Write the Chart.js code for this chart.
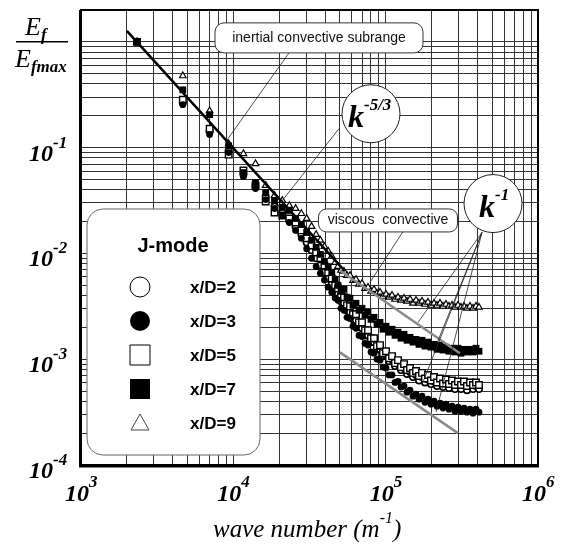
<!DOCTYPE html>
<html>
<head>
<meta charset="utf-8">
<script src="https://cdn.jsdelivr.net/npm/chart.js@4.4.1/dist/chart.umd.min.js"></script>
<style>
html,body{margin:0;padding:0;background:#fff;overflow:hidden}
canvas{display:block}
</style>
</head>
<body>
<canvas id="spec" width="563" height="547"></canvas>
<script>
/* normalised spectra E_f/E_fmax against wave number, J-mode */
const kVals=[2330,4660,6990,9320,11650,13980,16310,18640,20970,23300,25630,27960,30290,32620,34950,37280,39610,41940,44270,46600,
  48650,50910,53270,55740,58330,61030,63860,66830,69930,73170,76570,80120,83840,87730,91800,96060,100500,105200,110100,115200,
  120500,126100,132000,138100,144500,151200,158200,165500,173200,181200,189600,198400,207600,217300,227400,237900,248900,260500,
  272600,285200,298400,312300,326800,341900,357800,374400,391800,409900];

const yD2=[1.0,0.266,0.142,0.094,0.0556,0.0429,0.0345,0.0277,0.0244,0.0205,0.0180,0.0151,0.0127,0.0107,0.0090,0.0077,0.0066,0.0058,0.0051,0.0044,
  .00411,.00353,.00338,.00290,.00278,.00238,.00233,.00200,.00196,.00168,.00168,.00145,.00145,.00124,.00124,.00107,.00109,.000959,.00100,.000861,
  .000899,.00079,.000825,.000726,.000756,.000679,.00071,.00063,.000679,.000603,.000644,.000583,.000616,.000558,.000603,.000546,.00059,.000534,
  .000583,.000522,.00057,.000522,.00057,.00051,.000558,.000522,.000558,.000522];
const yD3=[1.0,0.255,0.133,0.0898,0.0532,0.0410,0.0323,0.0266,0.0228,0.0196,0.0165,0.0139,0.0111,0.0090,0.0075,0.0065,0.0056,0.0048,0.0043,0.0038,
  .00361,.00303,.00290,.00249,.00243,.00205,.00196,.00168,.00164,.00141,.00136,.00117,.00114,.00100,.00098,.000842,.000825,.00071,.00071,.000603,
  .000616,.000546,.000557,.000488,.00051,.000447,.000467,.000419,.000447,.000392,.000419,.000376,.000401,.00036,.000384,.000345,.000376,.000337,
  .00036,.000323,.000352,.000323,.000345,.000316,.000337,.000309,.000337,.000316];
const yD5=[1.0,0.284,0.151,0.0859,0.0607,0.0439,0.0310,0.0244,0.0228,0.0214,0.0196,0.0165,0.0139,0.0119,0.0102,0.0090,0.0077,0.0066,0.0058,0.0050,
  .00467,.00393,.00385,.00323,.00316,.00266,.00266,.00223,.00223,.00188,.00188,.00158,.00158,.00133,.00136,.00114,.00119,.00102,.00107,.000919,
  .00098,.000842,.000899,.00079,.000825,.000742,.000773,.000695,.000742,.000658,.00071,.00063,.000679,.000603,.000658,.00059,.000644,.000583,
  .00063,.00057,.000616,.00057,.000616,.000558,.000603,.00057,.000603,.00057];
const yD7=[1.0,0.352,0.205,0.104,0.0581,0.0468,0.0376,0.0316,0.0272,0.0255,0.0214,0.0188,0.0158,0.0133,0.0114,0.0098,0.0084,0.0074,0.0066,0.0057,
  .00499,.00438,.00457,.00385,.00377,.00323,.00338,.00290,.00303,.00260,.00278,.00238,.00249,.00214,.00223,.00192,.00205,.00180,.00192,.00168,
  .00180,.00158,.00172,.00151,.00161,.00145,.00154,.00138,.00151,.00133,.00145,.00130,.00138,.00124,.00136,.00122,.00130,.00119,
  .00127,.00117,.00127,.00114,.00124,.00117,.00124,.00117,.00127,.00119];
const yD9=[1.0,0.477,0.223,0.109,0.0877,0.0706,0.0439,0.0352,0.0316,0.0284,0.0266,0.0238,0.0214,0.0180,0.0151,0.0133,0.0116,0.0105,0.0094,0.0082,
  .00754,.00692,.00677,.00620,.00620,.00556,.00568,.00510,.00521,.00467,.00478,.00438,.00457,.00420,.00429,.00393,.00411,.00385,.00402,.00368,
  .00385,.00361,.00377,.00353,.00368,.00338,.00361,.00338,.00353,.00330,.00345,.00323,.00338,.00323,.00338,.00316,.00330,.00316,
  .00323,.00310,.00323,.00310,.00316,.00303,.00316,.00303,.00316,.00310];

// fitted slopes, end points
const fit53=[[2000,1.27],[54000,0.0068]];
const fitHi=[[50100,0.0069],[307000,0.00114]];
const fitLo=[[50100,0.00116],[298000,0.0002]];

const xMajors=[1e3,1e4,1e5,1e6], xExps=['3','4','5','6'];
const yMajors=[1e-1,1e-2,1e-3,1e-4], yExps=['-1','-2','-3','-4'];
const seriesNames=['x/D=2','x/D=3','x/D=5','x/D=7','x/D=9'];

const SERIF='"Liberation Serif","Times New Roman",serif';
const SANS='"Liberation Sans",Arial,sans-serif';
const GRID='#333';

const pts=arr=>kVals.map((k,i)=>({x:k,y:arr[i]}));
const seg=a=>a.map(p=>({x:p[0],y:p[1]}));

function logGrid(e0,e1,extra){
  const out=[];
  for(let e=e0;e<e1;e++) for(let m=1;m<10;m++) out.push({value:+(m*Math.pow(10,e)).toPrecision(3)});
  extra.forEach(v=>out.push({value:v}));
  return out;
}

function supText(ctx,base,exp,x,y,big,small,rise){
  ctx.font=big; ctx.fillText(base,x,y);
  const w=ctx.measureText(base).width;
  ctx.font=small; ctx.fillText(exp,x+w,y-rise);
  return x+w+ctx.measureText(exp).width;
}

function box(ctx,cx,cy,w,h,r){
  ctx.beginPath(); ctx.roundRect(cx-w/2,cy-h/2,w,h,r);
  ctx.fillStyle='#fff'; ctx.fill(); ctx.stroke();
}
function leader(ctx,a,b){
  ctx.beginPath(); ctx.moveTo(a[0],a[1]); ctx.lineTo(b[0],b[1]); ctx.stroke();
}

const decor={
  id:'decor',
  afterDatasetsDraw(chart){
    const {ctx,chartArea:ca,scales:{x,y}}=chart;
    const P=(k,e)=>[x.getPixelForValue(k),y.getPixelForValue(e)];
    ctx.save();
    ctx.textBaseline='alphabetic'; ctx.textAlign='left';

    // leader lines
    ctx.strokeStyle='#222'; ctx.lineWidth=0.8;
    leader(ctx,P(23200,0.787),P(8820,0.111));
    leader(ctx,P(49400,0.151),P(19060,0.0266));
    leader(ctx,P(130000,0.0161),P(78900,0.00533));
    [[163100,0.00223],[217300,0.00142],[175800,0.000607],[214100,0.000316]].forEach(e=>leader(ctx,P(429000,0.0158),P(e[0],e[1])));

    // text boxes
    ctx.strokeStyle='#333'; ctx.lineWidth=1;
    let c=P(36500,1.09); box(ctx,c[0],c[1],208,30,9);
    ctx.fillStyle='#111'; ctx.font='14px '+SANS; ctx.textAlign='center'; ctx.textBaseline='middle';
    ctx.fillText('inertial convective subrange',c[0],c[1]);
    c=P(103600,0.0205); box(ctx,c[0],c[1],139,23,8);
    ctx.fillStyle='#111'; ctx.fillText('viscous  convective',c[0],c[1]);

    // slope circles
    ctx.textAlign='left'; ctx.textBaseline='alphabetic';
    [[80100,0.209,'-5/3'],[506700,0.0296,'-1']].forEach(s=>{
      const p=P(s[0],s[1]);
      ctx.beginPath(); ctx.arc(p[0],p[1],29,0,Math.PI*2);
      ctx.fillStyle='#fff'; ctx.fill(); ctx.strokeStyle='#222'; ctx.stroke();
      ctx.fillStyle='#000';
      const w0=s[2].length>2?-23:-14;
      supText(ctx,'k',s[2],p[0]+w0,p[1]+13,'italic bold 32px '+SERIF,'italic bold 17px '+SERIF,17);
    });

    // legend
    const lx=ca.left+6, ly=ca.top+199;
    ctx.strokeStyle='#666'; ctx.lineWidth=1;
    ctx.beginPath(); ctx.roundRect(lx,ly,173,246,16); ctx.fillStyle='#fff'; ctx.fill(); ctx.stroke();
    ctx.fillStyle='#000'; ctx.font='bold 20px '+SANS; ctx.textAlign='center';
    ctx.fillText('J-mode',lx+86,ly+43);
    ctx.textAlign='left'; ctx.textBaseline='middle'; ctx.font='bold 17px '+SANS;
    const mx=lx+53;
    seriesNames.forEach((name,i)=>{
      const ry=ly+78+i*34;
      ctx.strokeStyle='#000'; ctx.lineWidth=1; ctx.fillStyle='#000';
      ctx.beginPath();
      if(i===0){ctx.arc(mx,ry,10,0,Math.PI*2);ctx.fillStyle='#fff';ctx.fill();ctx.stroke();}
      else if(i===1){ctx.arc(mx,ry,10,0,Math.PI*2);ctx.fill();}
      else if(i===2){ctx.rect(mx-10,ry-10,20,20);ctx.fillStyle='#fff';ctx.fill();ctx.stroke();}
      else if(i===3){ctx.rect(mx-10,ry-10,20,20);ctx.fill();}
      else {ctx.moveTo(mx,ry-9);ctx.lineTo(mx+9,ry+7);ctx.lineTo(mx-9,ry+7);ctx.closePath();ctx.strokeStyle='#444';ctx.stroke();}
      ctx.fillStyle='#000'; ctx.fillText(name,lx+103,ry+1);
    });
    ctx.restore();
  },
  afterDraw(chart){
    const {ctx,chartArea:ca,scales:{x,y}}=chart;
    ctx.save();
    ctx.strokeStyle='#000'; ctx.lineWidth=2;
    ctx.strokeRect(ca.left,ca.top,ca.right-ca.left,ca.bottom-ca.top);
    ctx.fillRect(ca.left-2,ca.top,1.5,ca.bottom-ca.top+2);
    ctx.fillRect(ca.left-2,ca.bottom+1,ca.right-ca.left+3,1.5);
    ctx.fillStyle='#000'; ctx.textAlign='left'; ctx.textBaseline='alphabetic';
    const big='italic bold 24px '+SERIF, small='italic bold 17px '+SERIF;
    xMajors.forEach((v,i)=>supText(ctx,'10',xExps[i],x.getPixelForValue(v)-16,501,big,small,14));
    yMajors.forEach((v,i)=>supText(ctx,'10',yExps[i],29,y.getPixelForValue(v)+13,big,small,13));

    // y title as a fraction
    supText(ctx,'E','f',25,35,'italic 26px '+SERIF,'italic bold 17px '+SERIF,-5);
    ctx.fillRect(16,41,52,1.5);
    supText(ctx,'E','fmax',15,67,'italic 26px '+SERIF,'italic bold 17px '+SERIF,-5);

    // x title
    const e=supText(ctx,'wave number (m','-1',213,537,'italic 25px '+SERIF,'italic 16px '+SERIF,14);
    ctx.font='italic 25px '+SERIF; ctx.fillText(')',e,537);
    ctx.restore();
  }
};

new Chart(document.getElementById('spec'),{
  type:'scatter',
  data:{datasets:[
    {type:'line',data:seg(fit53),borderColor:'#000',borderWidth:2.5,pointRadius:0,order:1},
    {type:'line',data:seg(fitHi),borderColor:'#8a8a8a',borderWidth:2.5,pointRadius:0,order:1},
    {type:'line',data:seg(fitLo),borderColor:'#8a8a8a',borderWidth:2.5,pointRadius:0,order:1},
    {label:seriesNames[3],data:pts(yD7),pointStyle:'rect',pointRadius:4.8,backgroundColor:'#000',borderColor:'#000',borderWidth:0,order:2},
    {label:seriesNames[1],data:pts(yD3),pointStyle:'circle',pointRadius:3.4,backgroundColor:'#000',borderColor:'#000',borderWidth:0,order:3},
    {label:seriesNames[2],data:pts(yD5),pointStyle:'rect',pointRadius:4.6,backgroundColor:'#fff',borderColor:'#000',borderWidth:1.4,order:4},
    {label:seriesNames[0],data:pts(yD2),pointStyle:'circle',pointRadius:3.2,backgroundColor:'#fff',borderColor:'#000',borderWidth:1.6,order:5},
    {label:seriesNames[4],data:pts(yD9),pointStyle:'triangle',pointRadius:3.8,backgroundColor:'#fff',borderColor:'#000',borderWidth:1.2,order:6}
  ]},
  options:{
    responsive:false,animation:false,
    layout:{padding:{left:81,right:25,top:10,bottom:82}},
    plugins:{legend:{display:false},tooltip:{enabled:false}},
    scales:{
      x:{type:'logarithmic',min:1e3,max:1e6,
         afterBuildTicks:s=>{s.ticks=logGrid(3,6,[1e6]);},
         ticks:{display:false},grid:{color:GRID,lineWidth:1,drawTicks:false},border:{display:false}},
      y:{type:'logarithmic',min:1e-4,max:2,
         afterBuildTicks:s=>{s.ticks=logGrid(-4,0,[1,2]);},
         ticks:{display:false},grid:{color:GRID,lineWidth:1,drawTicks:false},border:{display:false}}
    }
  },
  plugins:[decor]
});
</script>
</body>
</html>
